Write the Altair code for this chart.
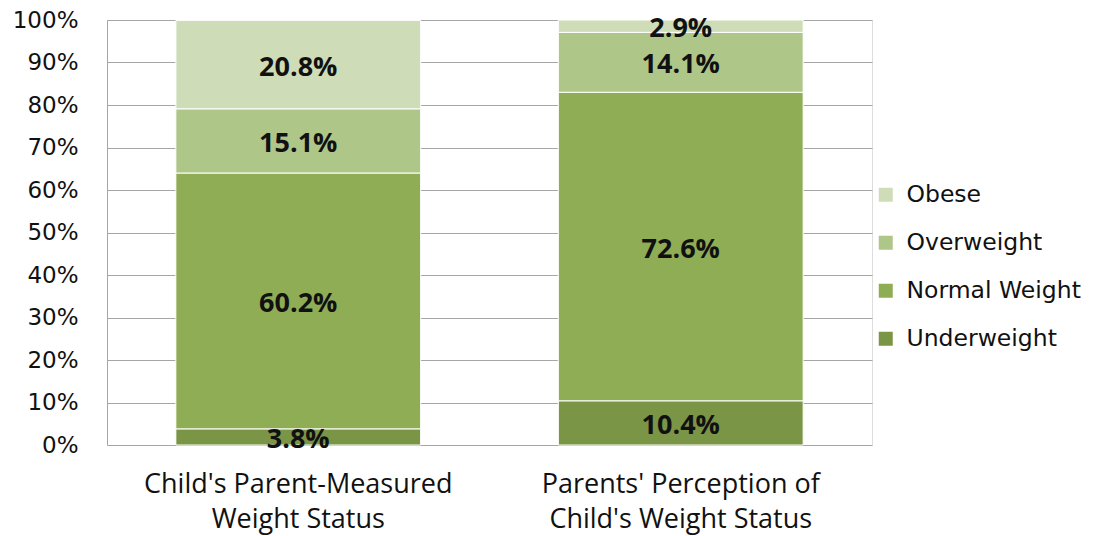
import altair as alt
import pandas as pd

categories = ["Child's Parent-Measured|Weight Status", "Parents' Perception of|Child's Weight Status"]
statuses = ["Underweight", "Normal Weight", "Overweight", "Obese"]
measured = [3.8, 60.2, 15.1, 20.8]
perceived = [10.4, 72.6, 14.1, 2.9]
colors = {"Underweight": "#7b9546", "Normal Weight": "#8fad55", "Overweight": "#afc689", "Obese": "#cfdcb8"}

rows = []
for cat, vals in zip(categories, [measured, perceived]):
    for i, (s, v) in enumerate(zip(statuses, vals)):
        rows.append({"cat": cat, "status": s, "value": v, "rank": i})
df = pd.DataFrame(rows)

legend_order = list(reversed(statuses))

base = alt.Chart(df).transform_stack(
    stack="value", groupby=["cat"], as_=["y0", "y1"], sort=[{"field": "rank", "order": "ascending"}]
).transform_calculate(
    mid="(datum.y0 + datum.y1) / 2",
    lab="format(datum.value, '.1f') + '%'"
)

x_enc = alt.X("cat:N", sort=categories, title=None,
              scale=alt.Scale(paddingInner=0.36, paddingOuter=0.18),
              axis=alt.Axis(labelExpr="split(datum.label, '|')", labelAngle=0,
                            labelFont="Open Sans", labelFontSize=27, labelColor="#111111",
                            labelLineHeight=35, labelPadding=26, labelLimit=0, ticks=False,
                            domain=False, grid=False))

bars = base.mark_bar(stroke="white", strokeWidth=1).encode(
    x=x_enc,
    y=alt.Y("y0:Q", title=None,
            scale=alt.Scale(domain=[0, 100], nice=False),
            axis=alt.Axis(values=list(range(0, 101, 10)), labelExpr="datum.value + '%'",
                          labelFont="DejaVu Sans", labelFontSize=23, labelColor="#111111",
                          labelPadding=29, ticks=False, domain=True, domainColor="#a6a6a6",
                          grid=True, gridColor="#a6a6a6", gridWidth=1)),
    y2="y1:Q",
    color=alt.Color("status:N",
                    scale=alt.Scale(domain=legend_order, range=[colors[s] for s in legend_order]),
                    legend=alt.Legend(title=None, orient="none", legendX=767, legendY=163,
                                      symbolType="square", symbolSize=196, symbolStrokeWidth=0,
                                      labelFont="DejaVu Sans", labelFontSize=23.5, labelColor="#111111",
                                      rowPadding=23, labelOffset=9, labelLimit=0)),
)

texts = base.mark_text(font="Open Sans", fontSize=27, fontWeight="bold", color="#111111",
                       baseline="middle", dy=3).encode(
    x=alt.X("cat:N", sort=categories),
    y=alt.Y("mid:Q"),
    text="lab:N",
)

chart = alt.layer(bars, texts).properties(
    width=765, height=425,
    autosize=alt.AutoSizeParams(type="none"),
    padding={"left": 99, "top": 12, "right": 220, "bottom": 91},
).configure_view(stroke=None).configure(background="white")

chart.save("out.html", embed_options={"renderer": "svg", "actions": False})
